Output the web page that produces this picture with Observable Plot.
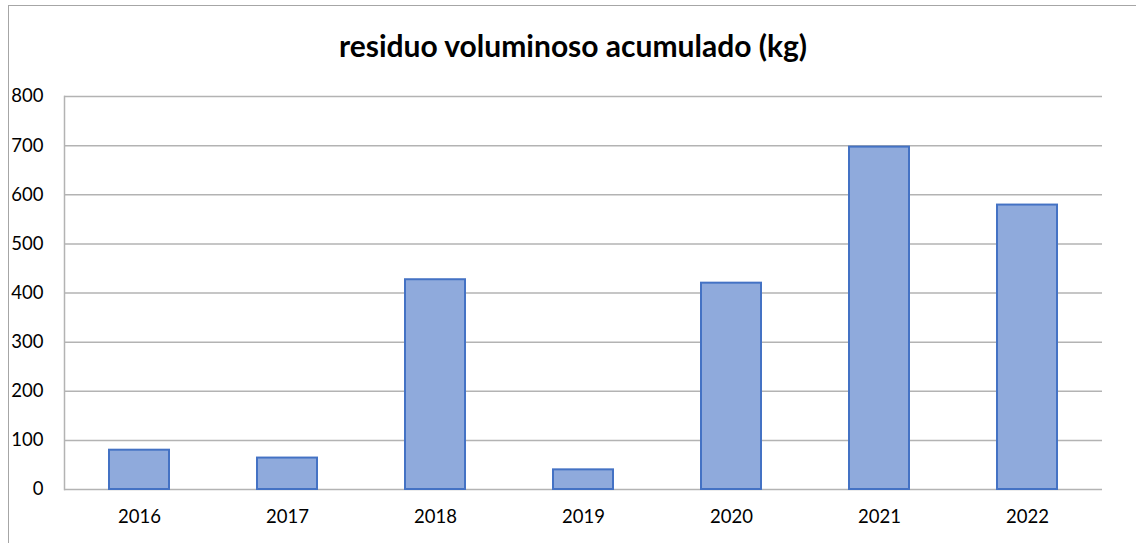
<!DOCTYPE html>
<html>
<head>
<meta charset="utf-8">
<script src="https://cdn.jsdelivr.net/npm/d3@7"></script>
<script src="https://cdn.jsdelivr.net/npm/@observablehq/plot@0.6"></script>
<style>
  html, body { margin: 0; padding: 0; background: #fff; width: 1136px; height: 543px; overflow: hidden; }
  #frame { position: absolute; left: 8px; top: 5px; width: 1200px; height: 600px; border-left: 1.5px solid #a6a6a6; border-top: 1.5px solid #a6a6a6; }
  #title { position: absolute; left: 0; top: 27px; width: 1146px; text-align: center; font-family: Lato, "Open Sans", sans-serif; font-weight: bold; font-size: 30px; color: #000; }
  #chart { position: absolute; left: 0; top: 80px; }
</style>
</head>
<body>
<div id="frame"></div>
<div id="title">residuo voluminoso acumulado (kg)</div>
<div id="chart"></div>
<script>
const years = ["2016", "2017", "2018", "2019", "2020", "2021", "2022"];
const values = [80, 64, 427, 40, 420, 697, 579];
const yTicks = [0, 100, 200, 300, 400, 500, 600, 700, 800];

const data = years.map((y, i) => ({year: y, value: values[i]}));

const plot = Plot.plot({
  width: 1136,
  height: 463,
  marginTop: 16,
  marginBottom: 54,
  marginLeft: 64,
  marginRight: 34,
  style: {fontFamily: "Lato, 'Open Sans', sans-serif", fontSize: "18px", color: "#000", background: "transparent"},
  x: {domain: years, paddingInner: 0.595, paddingOuter: 0.2975, label: null},
  y: {domain: [0, 800], label: null},
  marks: [
    Plot.gridY(yTicks, {stroke: "#b3b3b3", strokeOpacity: 1, strokeWidth: 1.5}),
    Plot.frame({anchor: "left", stroke: "#b3b3b3", strokeWidth: 1.5}),
    Plot.barY(data, {x: "year", y: "value", fill: "#8faadc", stroke: "#4472c4", strokeWidth: 2}),
    Plot.axisY(yTicks, {tickSize: 0, tickPadding: 21, fontSize: 18.5, fill: "#000", label: null}),
    Plot.axisX({tickSize: 0, tickPadding: 20, fontSize: 18.5, fill: "#000", label: null})
  ]
});
document.getElementById("chart").appendChild(plot);
</script>
</body>
</html>
